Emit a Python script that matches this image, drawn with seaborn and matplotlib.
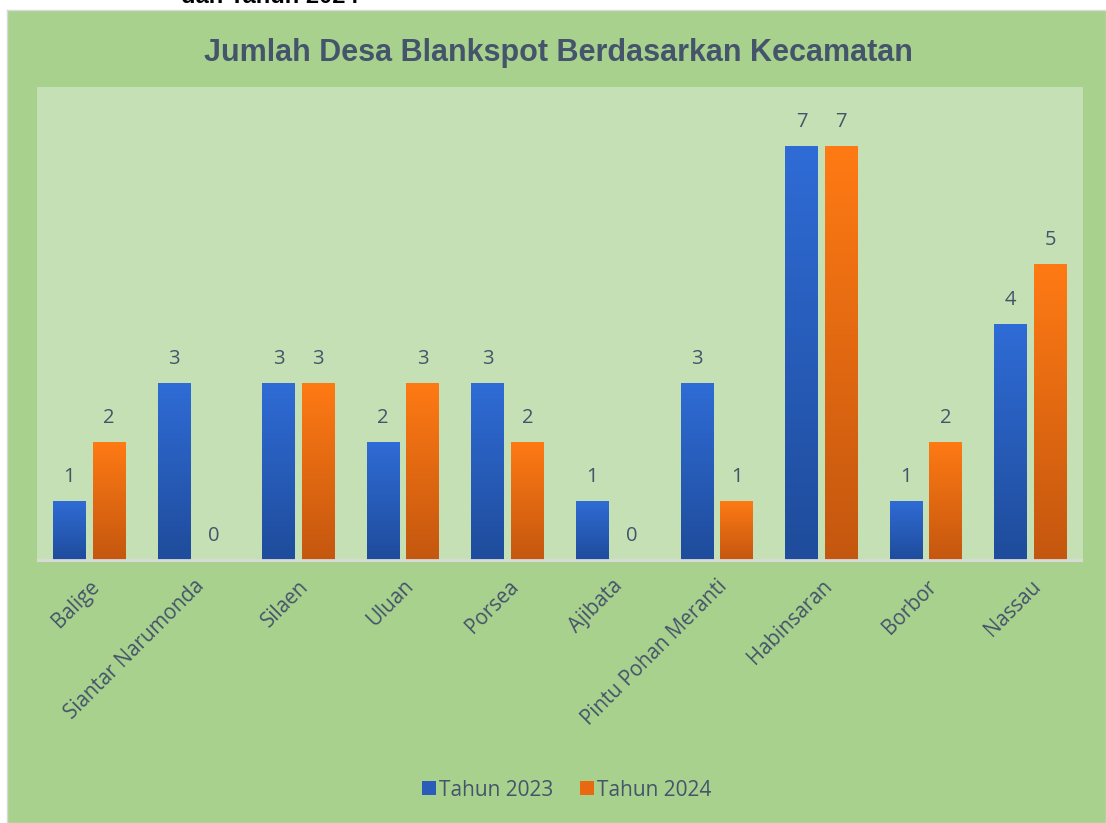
import numpy as np
import pandas as pd
import matplotlib
matplotlib.use("Agg")
import matplotlib.pyplot as plt
import seaborn as sns
from matplotlib.patches import Patch
from matplotlib.colors import LinearSegmentedColormap

kecamatan = ["Balige", "Siantar Narumonda", "Silaen", "Uluan", "Porsea", "Ajibata",
             "Pintu Pohan Meranti", "Habinsaran", "Borbor", "Nassau"]
tahun_2023 = [1, 3, 3, 2, 3, 1, 3, 7, 1, 4]
tahun_2024 = [2, 0, 3, 3, 2, 0, 1, 7, 2, 5]
series = ["Tahun 2023", "Tahun 2024"]

df = pd.DataFrame({
    "Kecamatan": kecamatan * 2,
    "Jumlah": tahun_2023 + tahun_2024,
    "Tahun": [series[0]] * len(kecamatan) + [series[1]] * len(kecamatan),
})

sns.set_theme(style="white")
plt.rcParams["font.family"] = ["Open Sans", "DejaVu Sans"]

W, H = 1106, 823
fig = plt.figure(figsize=(W / 100, H / 100), dpi=100, facecolor="white")

# chart area background (behind axes)
bg = fig.add_axes([7 / W, 0, 1 - 7 / W, 1 - 10 / H], zorder=-5)
bg.set_facecolor("#A9D18E")
bg.set_xticks([]); bg.set_yticks([])
for sp in bg.spines.values():
    sp.set_color("#D9D9D9"); sp.set_linewidth(1.0)

# cropped caption text above
fig.text(270 / W, 1 + 4 / H, "dan Tahun 2024", ha="center", va="center",
         fontsize=17, fontweight="bold", color="black", family=["Liberation Sans", "DejaVu Sans"])

ax = fig.add_axes([37 / W, (H - 562) / H, 1046 / W, 475 / H], zorder=2)
ax.set_facecolor("#C5E0B4")

pal = {series[0]: "#2A5CB8", series[1]: "#E8690F"}
sns.barplot(data=df, x="Kecamatan", y="Jumlah", hue="Tahun", palette=pal, ax=ax,
            width=0.76, gap=0.17, legend=False, saturation=1, linewidth=0,
            edgecolor="none")

grads = {
    series[0]: LinearSegmentedColormap.from_list("b", ["#1F4C9B", "#2F6CD6"]),
    series[1]: LinearSegmentedColormap.from_list("o", ["#C4570F", "#FF7A14"]),
}
grad_img = np.linspace(0, 1, 256).reshape(-1, 1)
for cont, s in zip(ax.containers, series):
    for p in cont.patches:
        p.set_linewidth(0)
        h = p.get_height()
        if h <= 0:
            continue
        x0 = p.get_x()
        w = p.get_width()
        im = ax.imshow(grad_img, extent=[x0, x0 + w, 0, h], origin="lower",
                       cmap=grads[s], aspect="auto", zorder=p.get_zorder() + 0.1)
        im.set_clip_path(p)
    ax.bar_label(cont, labels=[str(int(v)) for v in cont.datavalues], padding=10,
                 fontsize=14.5, color="#44546A")

ax.set_xlim(-0.5, len(kecamatan) - 0.5)
ax.set_ylim(-2 / 59.125, 8)
ax.axhline(0, color="#D9D9D9", linewidth=2, zorder=5)

for sp in ax.spines.values():
    sp.set_visible(False)
ax.set_yticks([])
ax.set_xlabel("")
ax.set_ylabel("")
ax.tick_params(axis="x", length=0, pad=10)
ax.set_xticks(range(len(kecamatan)))
ax.set_xticklabels(kecamatan, rotation=45, ha="right", rotation_mode="anchor",
                   fontsize=14.8, color="#44546A")

fig.text(558 / W, 1 - 53 / H, "Jumlah Desa Blankspot Berdasarkan Kecamatan", ha="center",
         va="center", fontsize=22, fontweight="bold", color="#44546A",
         family=["Liberation Sans Narrow", "Liberation Sans", "DejaVu Sans"])

handles = [Patch(facecolor="#2A5CB8", edgecolor="none"), Patch(facecolor="#E8690F", edgecolor="none")]
fig.legend(handles, series, loc="center", bbox_to_anchor=(567 / W, 1 - 790 / H), ncol=2,
           frameon=False, fontsize=15, labelcolor="#44546A", handlelength=0.65,
           handleheight=0.65, handletextpad=0.15, columnspacing=1.3)

fig.savefig("out.png", dpi=100, facecolor="white")
